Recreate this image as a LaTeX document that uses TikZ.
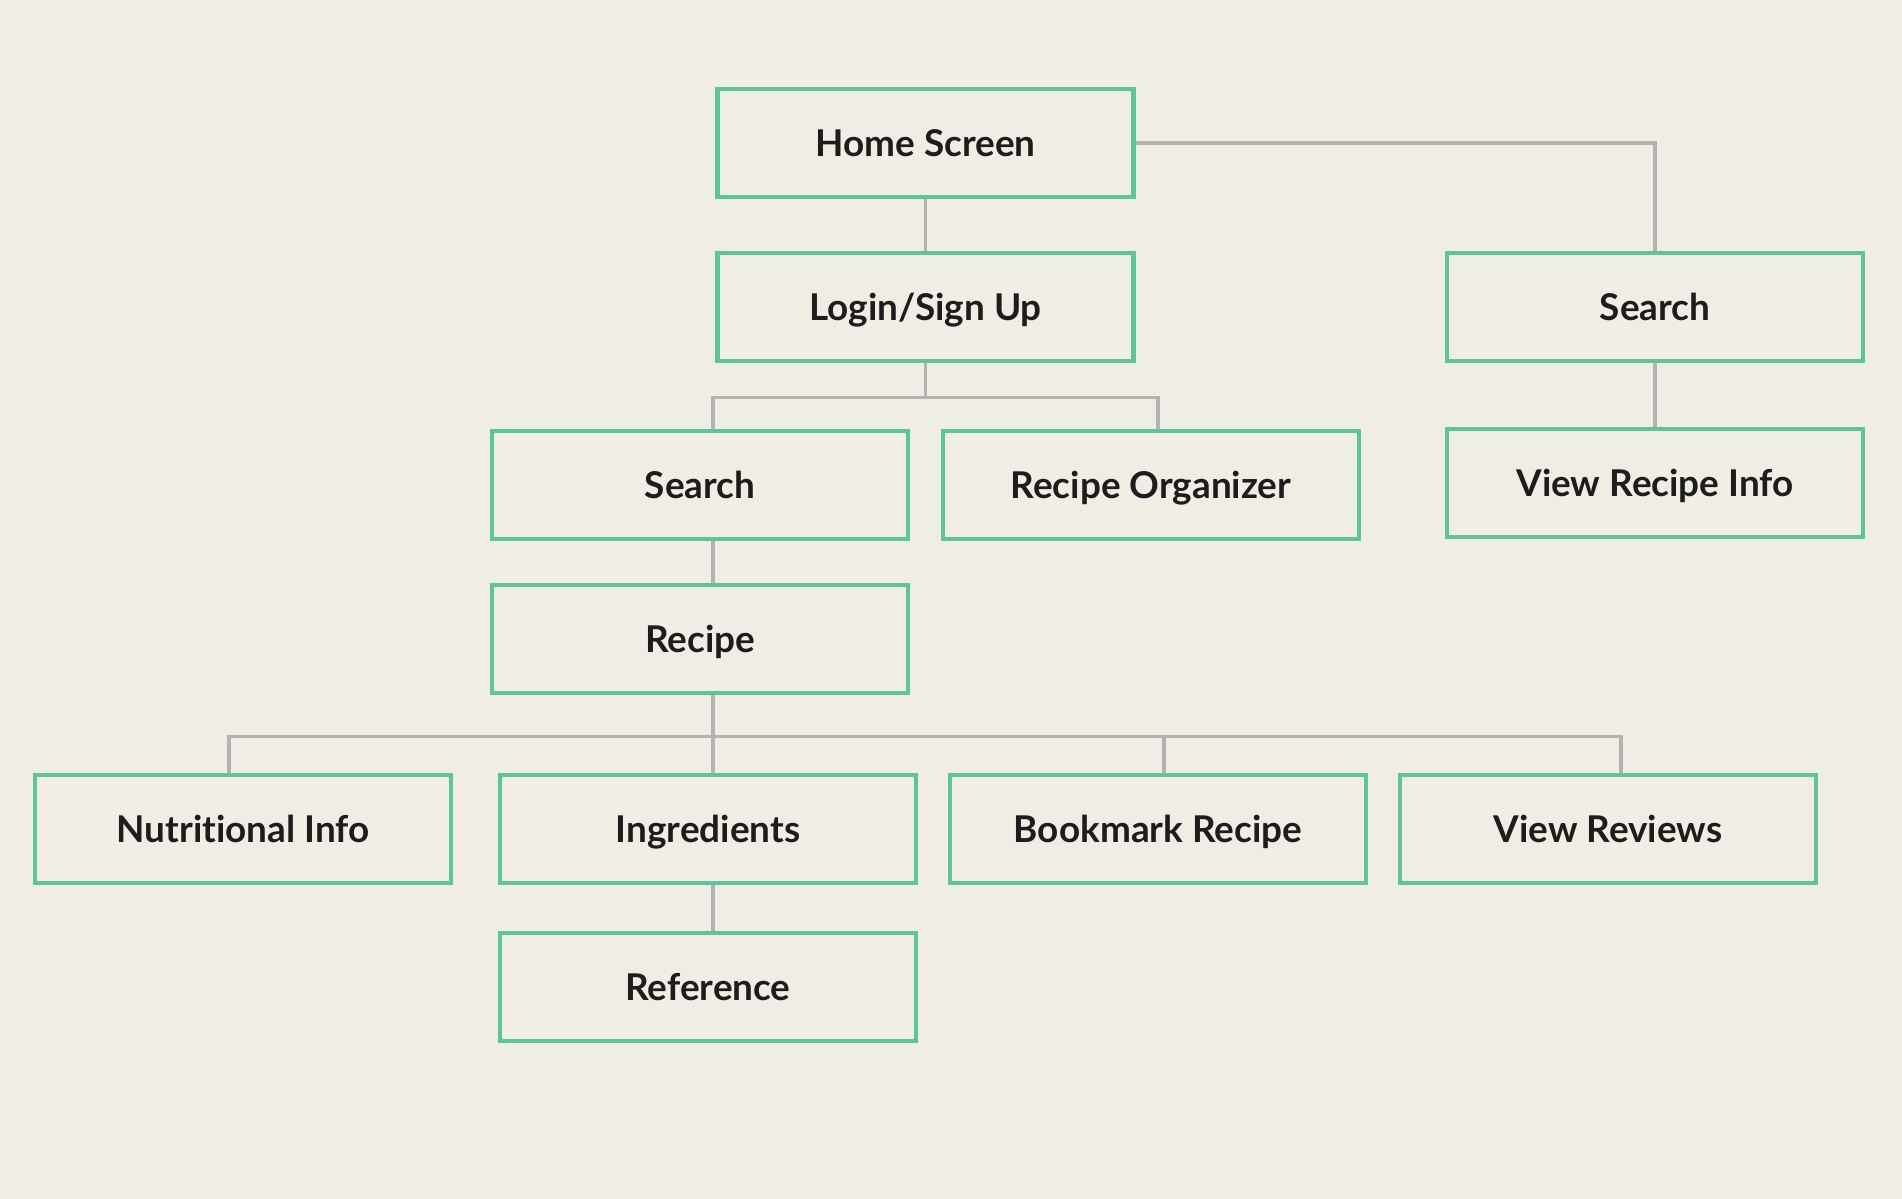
\documentclass[tikz,border=0pt]{standalone}
\usepackage{fontspec}
\setmainfont[Ligatures=NoCommon]{Lato}
\usetikzlibrary{calc}
\definecolor{bgcream}{HTML}{F0EDE5}
\definecolor{boxgreen}{HTML}{5CC59A}
\definecolor{linegray}{HTML}{B3B3B3}
\definecolor{inkdark}{HTML}{1E1C1C}

\begin{document}
\begin{tikzpicture}[x=0.02cm, y=-0.02cm,
    screen/.style={draw=boxgreen, line width=2.4pt, minimum width=8.32cm, minimum height=2.17cm,
      inner sep=0pt, text height=15.2pt, text depth=0pt, text=inkdark,
      font=\bfseries\fontsize{21}{25}\selectfont},
    link/.style={draw=linegray, line width=2pt}]
    \fill[bgcream] (0,0) rectangle (1902,1199);
    \useasboundingbox (0,0) rectangle (1902,1199);
    % screens
    \node[screen] (home) at (925.5,143) {Home Screen};
    \node[screen] (login) at (925.5,307) {Login/Sign Up};
    \node[screen] (searchR) at (1655,307) {Search};
    \node[screen] (viewinfo) at (1655,483) {View Recipe Info};
    \node[screen] (searchL) at (700,485) {Search};
    \node[screen] (organizer) at (1151,485) {Recipe Organizer};
    \node[screen] (recipe) at (700,639) {Recipe};
    \node[screen] (nutri) at (243,829) {Nutritional Info};
    \node[screen] (ingred) at (708,829) {Ingredients};
    \node[screen] (bookmark) at (1158,829) {Bookmark Recipe};
    \node[screen] (reviews) at (1608,829) {View Reviews};
    \node[screen] (reference) at (708,987) {Reference};
    % links
    \draw[link] (home) -- (login);
    \draw[link] (home.east) -| (searchR.north);
    \draw[link] (searchR) -- (viewinfo);
    \draw[link] (login.south) -- ++(0,34) coordinate (lb);
    \draw[link] ([xshift=0.26cm]searchL.north) |- (lb) -| ([xshift=0.14cm]organizer.north);
    \draw[link] ([xshift=0.26cm]searchL.south) -- ([xshift=0.26cm]recipe.north);
    \draw[link] ([xshift=0.26cm]recipe.south) -- ++(0,41) coordinate (rb);
    \draw[link] ([xshift=-0.28cm]nutri.north) |- (rb) -| ([xshift=0.26cm]reviews.north);
    \draw[link] (rb) -- (rb |- ingred.north);
    \coordinate (bk) at ([xshift=0.12cm]bookmark.north);
    \draw[link] (bk) -- (bk |- rb);
    \draw[link] ([xshift=0.1cm]ingred.south) -- ([xshift=0.1cm]reference.north);
\end{tikzpicture}
\end{document}
